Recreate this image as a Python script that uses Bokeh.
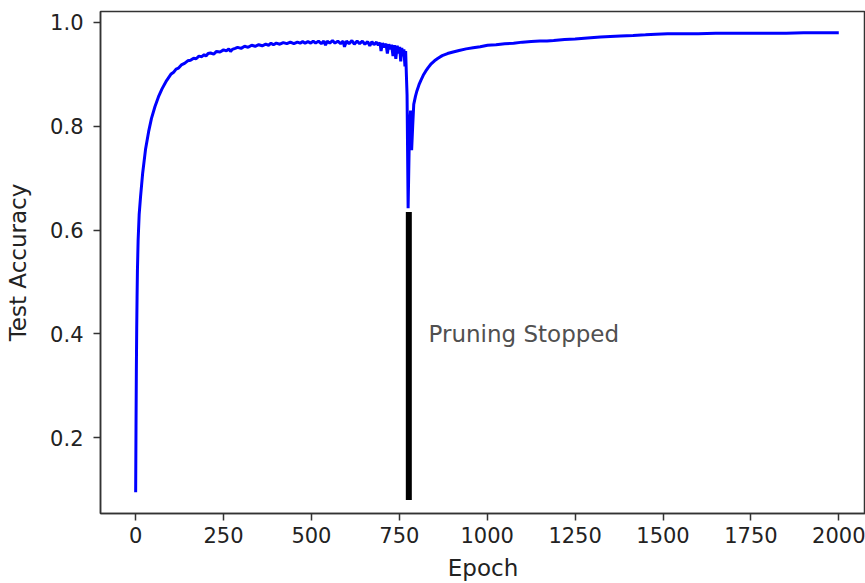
from bokeh.plotting import figure
from bokeh.models import Range1d, FixedTicker, PrintfTickFormatter
from bokeh.core.properties import value
from bokeh.embed import file_html
from bokeh.resources import INLINE

# ---- data ----
epochs = [0, 1, 2, 3, 4, 5, 7, 10, 14, 20, 28, 37, 45, 55, 65, 75, 88, 100, 108, 115,
          122, 130, 139, 148, 156, 165, 172, 180, 188, 195, 200, 206, 213, 222, 230,
          240, 250, 258, 265, 270, 275, 283, 290, 300, 310, 320, 330, 340, 350, 360,
          370, 378, 385, 392, 400, 410, 420, 430, 440, 450, 460, 468, 475, 482, 490,
          498, 505, 512, 520, 528, 535, 540, 545, 552, 560, 567, 575, 583, 590, 594,
          600, 607, 615, 622, 630, 637, 645, 652, 660, 666, 672, 678, 685, 690, 695,
          698, 702, 707, 712, 716, 720, 724, 728, 732, 736, 740, 744, 748, 751, 754,
          757, 760, 763, 766, 768, 770, 772, 775, 779, 782, 785, 788, 791, 796, 800,
          806, 811, 818, 825, 832, 839, 850, 860, 872, 887, 903, 920, 940, 960, 980,
          1001, 1025, 1050, 1075, 1100, 1125, 1150, 1170, 1189, 1220, 1250, 1285,
          1322, 1350, 1379, 1415, 1450, 1480, 1513, 1550, 1600, 1650, 1701, 1750,
          1800, 1850, 1900, 1950, 2000]
accuracy = [0.095, 0.22, 0.33, 0.41, 0.47, 0.52, 0.58, 0.63, 0.665, 0.71, 0.755, 0.79,
            0.815, 0.838, 0.857, 0.872, 0.888, 0.900, 0.904, 0.910, 0.912, 0.918, 0.921,
            0.926, 0.927, 0.931, 0.930, 0.935, 0.934, 0.938, 0.935, 0.940, 0.941, 0.939,
            0.944, 0.943, 0.947, 0.945, 0.949, 0.944, 0.948, 0.950, 0.952, 0.950, 0.954,
            0.952, 0.956, 0.954, 0.957, 0.955, 0.958, 0.956, 0.960, 0.957, 0.960, 0.958,
            0.961, 0.959, 0.962, 0.959, 0.962, 0.960, 0.963, 0.960, 0.963, 0.960, 0.964,
            0.960, 0.964, 0.959, 0.964, 0.956, 0.964, 0.960, 0.965, 0.960, 0.964, 0.959,
            0.964, 0.953, 0.964, 0.959, 0.965, 0.958, 0.964, 0.959, 0.964, 0.958, 0.963,
            0.955, 0.963, 0.957, 0.962, 0.956, 0.961, 0.945, 0.960, 0.952, 0.959, 0.940,
            0.958, 0.948, 0.957, 0.935, 0.956, 0.930, 0.955, 0.940, 0.953, 0.925, 0.951,
            0.935, 0.948, 0.915, 0.945, 0.900, 0.860, 0.642, 0.800, 0.830, 0.754, 0.800,
            0.842, 0.858, 0.868, 0.880, 0.888, 0.898, 0.906, 0.913, 0.919, 0.926, 0.931,
            0.936, 0.940, 0.943, 0.946, 0.949, 0.951, 0.953, 0.956, 0.957, 0.959, 0.960,
            0.962, 0.963, 0.964, 0.964, 0.965, 0.967, 0.968, 0.970, 0.972, 0.973, 0.974,
            0.975, 0.976, 0.977, 0.978, 0.978, 0.978, 0.979, 0.979, 0.979, 0.979, 0.979,
            0.980, 0.980, 0.980]

pruning_epoch = [777]
pruning_low = [0.08]
pruning_high = [0.635]
note_x = [833]
note_y = [0.40]
note_text = ["Pruning Stopped"]

x_ticks = [0, 250, 500, 750, 1000, 1250, 1500, 1750, 2000]
y_ticks = [0.2, 0.4, 0.6, 0.8, 1.0]

FONT = "DejaVu Sans"
TICK_FS = "21px"
LABEL_FS = "23px"

p = figure(width=865, height=583, output_backend="svg", toolbar_location=None,
           x_range=Range1d(-100, 2076), y_range=Range1d(0.054, 1.021),
           min_border_left=100, min_border_right=0, min_border_top=11,
           min_border_bottom=69)

p.grid.visible = False
p.background_fill_color = "white"
p.border_fill_color = "white"
p.outline_line_color = "#333333"
p.outline_line_width = 1.5

p.line(epochs, accuracy, line_color="#0000ff", line_width=3)
p.segment(x0=pruning_epoch, y0=pruning_low, x1=pruning_epoch, y1=pruning_high,
          line_color="black", line_width=6)
p.text(x=note_x, y=note_y, text=note_text, text_font=value(FONT),
       text_font_size=LABEL_FS, text_color="#505050", text_baseline="middle",
       text_align="left")

for ax in (p.xaxis[0], p.yaxis[0]):
    ax.axis_line_color = "#333333"
    ax.axis_line_width = 1.5
    ax.major_tick_line_color = "#333333"
    ax.major_tick_line_width = 1.5
    ax.major_tick_in = 0
    ax.major_tick_out = 7
    ax.minor_tick_line_color = None
    ax.major_label_text_font = FONT
    ax.major_label_text_font_size = TICK_FS
    ax.major_label_text_color = "#222222"
    ax.axis_label_text_font = FONT
    ax.axis_label_text_font_size = LABEL_FS
    ax.axis_label_text_font_style = "normal"
    ax.axis_label_text_color = "#222222"

p.xaxis[0].ticker = FixedTicker(ticks=x_ticks)
p.yaxis[0].ticker = FixedTicker(ticks=y_ticks)
p.yaxis[0].formatter = PrintfTickFormatter(format="%.1f")
p.xaxis[0].axis_label = "Epoch"
p.yaxis[0].axis_label = "Test Accuracy"
p.xaxis[0].major_label_standoff = 6
p.xaxis[0].axis_label_standoff = 9
p.yaxis[0].major_label_standoff = 10
p.yaxis[0].axis_label_standoff = 16

open("out.html", "w").write(file_html(p, INLINE))
